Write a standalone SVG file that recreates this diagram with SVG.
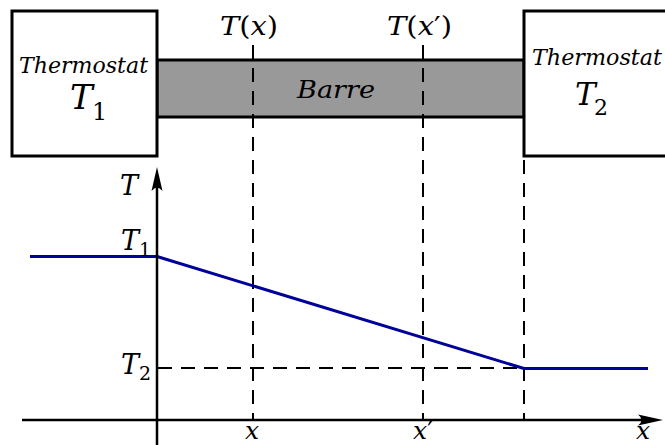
<svg xmlns="http://www.w3.org/2000/svg" width="665" height="445" viewBox="0 0 665 445">
<style>
.box{fill:#fff;stroke:#000;stroke-width:3}
.bar{fill:#999;stroke:#000;stroke-width:3}
.dash{fill:none;stroke:#000;stroke-width:2;stroke-dasharray:14 9}
.axis{fill:none;stroke:#000;stroke-width:2.5}
.curve{fill:none;stroke:#00009a;stroke-width:3;stroke-linejoin:round}
.it{font-style:italic}
.up{font-style:normal}
</style>
<rect width="665" height="445" fill="#fff"/>
<g font-family="'DejaVu Serif', 'Liberation Serif', serif" fill="#000">
<g id="barre">
<rect class="bar" x="157" y="60" width="367" height="57"/>
<text class="it" x="297" y="98" font-size="25" textLength="78" lengthAdjust="spacingAndGlyphs">Barre</text>
</g>
<g id="thermostat1">
<rect class="box" x="12" y="11" width="145" height="145"/>
<text class="it" x="19" y="73" font-size="22" textLength="129" lengthAdjust="spacingAndGlyphs">Thermostat</text>
<text x="70" y="109" font-size="34"><tspan class="it">T</tspan><tspan class="up" x="92" y="120" font-size="24">1</tspan></text>
</g>
<g id="thermostat2">
<rect class="box" x="524" y="11" width="160" height="145"/>
<text class="it" x="532" y="65" font-size="22" textLength="130" lengthAdjust="spacingAndGlyphs">Thermostat</text>
<text x="575" y="105" font-size="31"><tspan class="it">T</tspan><tspan class="up" x="594" y="115" font-size="22">2</tspan></text>
</g>
<g id="connectors">
<line class="dash" x1="253" y1="45" x2="253" y2="420"/>
<line class="dash" x1="423" y1="45" x2="423" y2="420"/>
<line class="dash" x1="524" y1="160" x2="524" y2="420"/>
<line class="dash" x1="158" y1="368" x2="524" y2="368"/>
<polyline class="curve" points="30,256.5 157,256.5 524,368.5 648,368.5"/>
</g>
<g id="axes">
<line class="axis" x1="22" y1="420" x2="645" y2="420"/>
<path d="M663,420 L638,414.5 Q645,420 638,425.5 Z" fill="#000"/>
<line class="axis" x1="157" y1="445" x2="157" y2="185"/>
<path d="M157,167 L151.5,191 Q157,184 162.5,191 Z" fill="#000"/>
</g>
<g id="labels">
<text x="220" y="35" font-size="26" textLength="58" lengthAdjust="spacingAndGlyphs"><tspan class="it">T</tspan><tspan class="up">(</tspan><tspan class="it">x</tspan><tspan class="up">)</tspan></text>
<text x="387" y="35" font-size="26" textLength="65" lengthAdjust="spacingAndGlyphs"><tspan class="it">T</tspan><tspan class="up">(</tspan><tspan class="it">x</tspan><tspan class="up">′)</tspan></text>
<text class="it" x="120" y="195" font-size="27">T</text>
<text x="121" y="250" font-size="27"><tspan class="it">T</tspan><tspan class="up" x="139" y="256" font-size="19">1</tspan></text>
<text x="121" y="374" font-size="27"><tspan class="it">T</tspan><tspan class="up" x="139" y="380" font-size="19">2</tspan></text>
<text class="it" x="252" y="439" font-size="25" text-anchor="middle">x</text>
<text x="423" y="439" font-size="25" text-anchor="middle"><tspan class="it">x</tspan><tspan class="up">′</tspan></text>
<text class="it" x="643" y="439" font-size="25" text-anchor="middle">x</text>
</g>
</g>
</svg>
